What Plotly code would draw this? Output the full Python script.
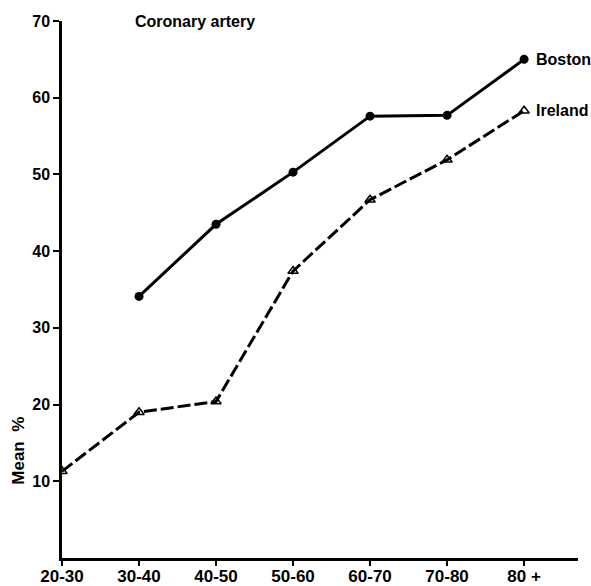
import plotly.graph_objects as go

age_groups = ["20-30", "30-40", "40-50", "50-60", "60-70", "70-80", "80 +"]
boston = [None, 34.1, 43.5, 50.3, 57.6, 57.7, 65.0]
ireland = [11.3, 19.0, 20.4, 37.4, 46.7, 51.9, 58.3]
y_ticks = [10, 20, 30, 40, 50, 60, 70]

xs = list(range(len(age_groups)))
font = dict(family="Liberation Sans, Arial, sans-serif", size=16, color="black")

fig = go.Figure()
fig.add_trace(go.Scatter(
    x=[x for x, v in zip(xs, boston) if v is not None],
    y=[v for v in boston if v is not None],
    mode="lines+markers",
    line=dict(color="black", width=3),
    marker=dict(symbol="circle", size=9, color="black"),
    showlegend=False))
fig.add_trace(go.Scatter(
    x=xs, y=ireland, mode="lines+markers",
    line=dict(color="black", width=3, dash="13px,4px"),
    marker=dict(symbol="triangle-up-open", size=9, color="black", line=dict(width=1.5)),
    showlegend=False))

fig.add_annotation(x=xs[-1], y=boston[-1], text="<b>Boston</b>", showarrow=False,
                   xanchor="left", xshift=10, font=font)
fig.add_annotation(x=xs[-1], y=ireland[-1], text="<b>Ireland</b>", showarrow=False,
                   xanchor="left", xshift=10, font=font)
fig.add_annotation(x=1, y=70, text="<b>Coronary artery</b>", showarrow=False,
                   xanchor="left", xshift=-6, yanchor="middle", font=font)
fig.add_annotation(xref="paper", yref="paper", x=-0.085, y=0.20, text="<b>Mean  %</b>",
                   textangle=-90, showarrow=False, xanchor="center", yanchor="middle",
                   font=dict(font, size=17))

fig.update_xaxes(range=[0, 6.7], tickvals=xs, ticktext=[f"<b>{a}</b>" for a in age_groups],
                 showline=True, linecolor="black", linewidth=2.5, ticks="outside",
                 ticklen=5, tickwidth=2, tickcolor="black", showgrid=False, zeroline=False,
                 tickfont=dict(font, size=17), automargin=False, ticklabelstandoff=-4)
fig.update_yaxes(range=[0, 70], tickvals=y_ticks, ticktext=[f"<b>{t}</b>" for t in y_ticks],
                 showline=True, linecolor="black", linewidth=2.5, ticks="outside",
                 ticklen=6, tickwidth=2, tickcolor="black", showgrid=False, zeroline=False,
                 tickfont=font, automargin=False)
fig.update_layout(width=591, height=586, margin=dict(l=62, r=13, t=21, b=28),
                  plot_bgcolor="white", paper_bgcolor="white")
fig.write_html("out.html")
